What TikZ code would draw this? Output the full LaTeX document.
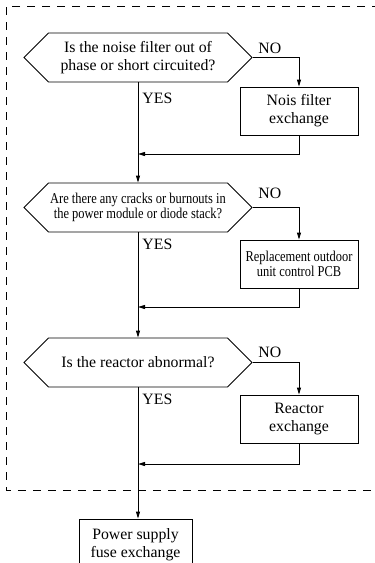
\documentclass[tikz,border=0pt]{standalone}
\usepackage{fontspec}
\setmainfont{Liberation Serif}
\newfontfamily\condfont{Liberation Serif}[FakeStretch=0.83]
\usetikzlibrary{arrows.meta,shapes.symbols,calc}
\begin{document}
\begin{tikzpicture}[x=1pt,y=-1pt, line width=0.9pt,
 every node/.style={font=\fontsize{15.8}{18}\selectfont},
 hexbox/.style={draw, shape=signal, signal to=west and east, signal pointer angle=90,
   minimum width=228pt, minimum height=49pt, inner sep=0pt, align=center},
 actbox/.style={draw, rectangle, minimum width=118pt, minimum height=48pt, inner sep=0pt, align=center},
 lbl/.style={inner sep=0pt, anchor=west},
 arr/.style={-{Triangle[length=7pt,width=4pt]}},
 small/.style={font=\condfont\fontsize{15}{15.5}\selectfont},
 border/.style={dash pattern=on 8pt off 7pt, line width=0.9pt}
]
\useasboundingbox (0,0) rectangle (375,563);
\clip (0,0) rectangle (375,563);
% dashed frame
\draw[border] (380,6) -| (6,490) -- (380,490);
% nodes
\node[hexbox] (q1) at (138,57.5) {Is the noise filter out of\\phase or short circuited?};
\node[actbox] (a1) at (299,111) {Nois filter\\exchange};
\coordinate (j1) at (138,154);
\node[hexbox, small] (q2) at (138,207.5) {Are there any cracks or burnouts in\\the power module or diode stack?};
\node[actbox, small] (a2) at (299,264) {Replacement outdoor\\unit control PCB};
\coordinate (j2) at (138,307);
\node[hexbox] (q3) at (138,362.5) {Is the reactor abnormal?};
\node[actbox] (a3) at (299,419) {Reactor\\exchange};
\coordinate (j3) at (138,464);
\node[actbox, minimum width=113pt, minimum height=52pt] (a4) at (135.5,545) {Power supply\\fuse exchange};
% labels
\node[lbl] (no1) at (258,48) {NO};
\node[lbl] (no2) at (258,193) {NO};
\node[lbl] (no3) at (258,352) {NO};
\node[lbl] (yes1) at (142,98) {YES};
\node[lbl] (yes2) at (142,244) {YES};
\node[lbl] (yes3) at (142,399) {YES};
% connectors
\draw[arr] (q1.east) -| (a1.north);
\draw[arr] (a1.south) |- (j1);
\draw[arr] (q1.south) -- (q2.north);
\draw[arr] (q2.east) -| (a2.north);
\draw[arr] (a2.south) |- (j2);
\draw[arr] (q2.south) -- (q3.north);
\draw[arr] (q3.east) -| (a3.north);
\draw[arr] (a3.south) |- (j3);
\draw[arr] (q3.south) -- (q3.south |- a4.north);
\end{tikzpicture}
\end{document}
